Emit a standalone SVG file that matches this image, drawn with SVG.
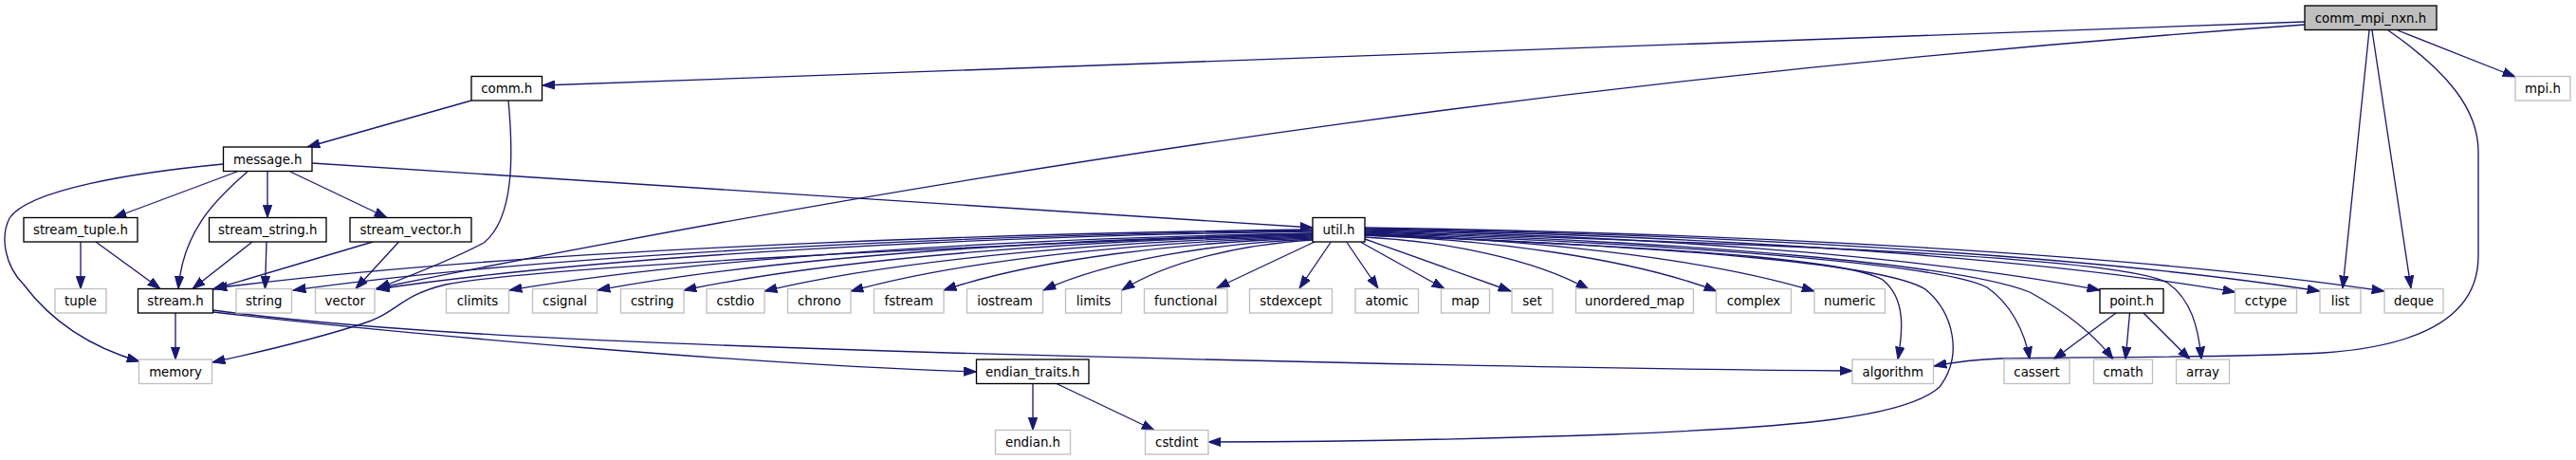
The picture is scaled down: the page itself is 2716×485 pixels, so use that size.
<svg xmlns="http://www.w3.org/2000/svg" width="2716" height="485" viewBox="0 0 2716 485">
<style>
.node rect{fill:#ffffff;stroke:#000000;stroke-width:1.33}
.node.sys rect{stroke:#bfbfbf}
.node.root rect{fill:#bfbfbf;stroke:#000000}
.node text{font-family:"DejaVu Sans","Liberation Sans",sans-serif;font-size:13.33px;text-anchor:middle;fill:#000000}
#edges path{fill:none;stroke:#191970;stroke-width:1.33;marker-end:url(#ah)}
</style>
<defs>
<marker id="ah" markerUnits="userSpaceOnUse" markerWidth="14" markerHeight="10" viewBox="0 0 14 10" refX="13.33" refY="5" orient="auto">
<path d="M0,0.33 L13.33,5 L0,9.67 Z" fill="#191970" stroke="#191970" stroke-width="1"/>
</marker>
</defs>
<rect x="0" y="0" width="2716" height="485" fill="#ffffff"/>
<g id="edges">
<path d="M2430,23 L572,90"/>
<path d="M2430,26 C1730,76 1108,161 397,304"/>
<path d="M2498,32 L2470,304"/>
<path d="M2501,32 L2542,304"/>
<path d="M2518,32 C2580,75 2613,115 2613,160 L2613,270 C2613,335 2550,365 2450,372 C2330,378 2180,376 2110,378 C2080,379 2060,382 2039,386"/>
<path d="M2528,32 L2652,81"/>
<path d="M497,106 L324,155"/>
<path d="M536,106 C541,160 543,230 510,256 C480,272 440,288 398,304"/>
<path d="M235.5,173 C140,182 30,200 10,230 C0,250 5,280 25,300 C55,340 95,366 147,381"/>
<path d="M250,181 L120,229.5"/>
<path d="M261,181 C225,212 193,245 188,304.5"/>
<path d="M282,181 L282,229.5"/>
<path d="M306,181 L408,229.5"/>
<path d="M329,172 L1384,240"/>
<path d="M85,255 L85,304.5"/>
<path d="M101,255 L169,304.5"/>
<path d="M266,255 L203,304.5"/>
<path d="M281,255 L279.5,304.5"/>
<path d="M393,255 L224.5,305"/>
<path d="M420.5,255 L375,304.5"/>
<path d="M185,330 L185,379"/>
<path d="M224.5,329 C420,352 800,385 1029.5,392"/>
<path d="M224.5,327 C380,348 600,360 1000,372 C1400,383 1700,389 1953,391"/>
<path d="M1089,404.5 L1089,453.5"/>
<path d="M1114,404.5 L1217,453.5"/>
<path d="M2231,330 L2165,379"/>
<path d="M2245.5,330 L2241,379"/>
<path d="M2260,330 L2309,379"/>
<path d="M1384,242 C979,247 515.5,266.8 226,304"/>
<path d="M1384,243 C1007.8,248 577.8,268.2 309,306"/>
<path d="M1384,244 C1038.6,248.9 643.8,268.4 397,305"/>
<path d="M1384,246 C1000,260 560,282 470,300 C420,312 420,330 380,342 C330,358 270,372 224,382"/>
<path d="M1384,246 C1087.6,250.8 748.8,270 537,306"/>
<path d="M1384,247 C1120,251.7 818.5,270.6 630,306"/>
<path d="M1384,248 C1152,252.6 886.8,271.2 721,306"/>
<path d="M1384,249 C1181.7,253.6 950.5,272.2 806,307"/>
<path d="M1384,250 C1213.6,254.6 1018.8,272.8 897,307"/>
<path d="M1384,251 C1247.9,255.4 1092.3,273 995,306"/>
<path d="M1384,252 C1284.6,256.3 1171,273.6 1100,306"/>
<path d="M1384,253 C1313.7,257.2 1233.3,274.2 1183,306"/>
<path d="M1386,255 L1283,303.5"/>
<path d="M1403,255.5 L1370,304"/>
<path d="M1420,255.5 L1453,304"/>
<path d="M1435,255.5 L1523,304.5"/>
<path d="M1439,252 L1593,307"/>
<path d="M1439,250 C1521.6,254.4 1616,272 1675,305"/>
<path d="M1439,248 C1568.9,252.7 1717.3,271.6 1810,307"/>
<path d="M1439,247 C1604.9,251.8 1794.5,271 1913,307"/>
<path d="M1439,243 C1710,248 2020,268.2 2214,306"/>
<path d="M1439,242 C1760,247.3 2127.5,268.4 2357,308"/>
<path d="M1439,241 C1791.5,246.3 2194,267.4 2446,307"/>
<path d="M1439,240 C1815,245.4 2245,266.8 2514,307"/>
<path d="M1439,244 C1900,258 2240,272 2285,298 C2310,315 2318,345 2321,379"/>
<path d="M1439,245 C1800,255 2070,280 2140,308 C2180,330 2210,355 2228,379"/>
<path d="M1439,246 C1800,258 2050,280 2095,303 C2120,320 2135,350 2140,379"/>
<path d="M1439,247 C1800,262 1990,280 2030,305 C2060,330 2070,375 2045,408 C2010,440 1900,450 1700,458 C1500,465 1350,466 1274,466"/>
<path d="M1439,248 C1800,262 1950,275 1985,295 C2010,315 2006,350 2001,379"/>
</g>
<g id="n_comm_mpi_nxn" class="node root"><rect x="2430" y="6" width="139" height="25.5"/><text x="2499.5" y="23.5">comm_mpi_nxn.h</text></g>
<g id="n_comm" class="node"><rect x="497" y="80.5" width="74.5" height="25.5"/><text x="534.25" y="98">comm.h</text></g>
<g id="n_mpi" class="node sys"><rect x="2652" y="80.5" width="58" height="25.5"/><text x="2681" y="98">mpi.h</text></g>
<g id="n_message" class="node"><rect x="235.5" y="155" width="93.5" height="25.5"/><text x="282.25" y="172.5">message.h</text></g>
<g id="n_stream_tuple" class="node"><rect x="25" y="229.5" width="120" height="25.5"/><text x="85" y="247">stream_tuple.h</text></g>
<g id="n_stream_string" class="node"><rect x="220.5" y="229.5" width="123.5" height="25.5"/><text x="282.25" y="247">stream_string.h</text></g>
<g id="n_stream_vector" class="node"><rect x="369" y="229.5" width="128" height="25.5"/><text x="433" y="247">stream_vector.h</text></g>
<g id="n_util" class="node"><rect x="1384" y="229.5" width="55" height="25.5"/><text x="1411.5" y="247">util.h</text></g>
<g id="n_tuple" class="node sys"><rect x="58" y="304.5" width="54" height="25.5"/><text x="85" y="322">tuple</text></g>
<g id="n_stream" class="node"><rect x="145.5" y="304.5" width="79" height="25.5"/><text x="185" y="322">stream.h</text></g>
<g id="n_string" class="node sys"><rect x="249" y="304.5" width="58.5" height="25.5"/><text x="278.25" y="322">string</text></g>
<g id="n_vector" class="node sys"><rect x="332.5" y="304.5" width="62.5" height="25.5"/><text x="363.75" y="322">vector</text></g>
<g id="n_climits" class="node sys"><rect x="470.5" y="304.5" width="66" height="25.5"/><text x="503.5" y="322">climits</text></g>
<g id="n_csignal" class="node sys"><rect x="561.5" y="304.5" width="68" height="25.5"/><text x="595.5" y="322">csignal</text></g>
<g id="n_cstring" class="node sys"><rect x="654.5" y="304.5" width="66.5" height="25.5"/><text x="687.75" y="322">cstring</text></g>
<g id="n_cstdio" class="node sys"><rect x="745" y="304.5" width="61" height="25.5"/><text x="775.5" y="322">cstdio</text></g>
<g id="n_chrono" class="node sys"><rect x="830.5" y="304.5" width="66.5" height="25.5"/><text x="863.75" y="322">chrono</text></g>
<g id="n_fstream" class="node sys"><rect x="921.5" y="304.5" width="73.5" height="25.5"/><text x="958.25" y="322">fstream</text></g>
<g id="n_iostream" class="node sys"><rect x="1019.5" y="304.5" width="80" height="25.5"/><text x="1059.5" y="322">iostream</text></g>
<g id="n_limits" class="node sys"><rect x="1123.5" y="304.5" width="59" height="25.5"/><text x="1153" y="322">limits</text></g>
<g id="n_functional" class="node sys"><rect x="1206.5" y="304.5" width="87.5" height="25.5"/><text x="1250.25" y="322">functional</text></g>
<g id="n_stdexcept" class="node sys"><rect x="1317.5" y="304.5" width="87" height="25.5"/><text x="1361" y="322">stdexcept</text></g>
<g id="n_atomic" class="node sys"><rect x="1429" y="304.5" width="66.5" height="25.5"/><text x="1462.25" y="322">atomic</text></g>
<g id="n_map" class="node sys"><rect x="1519.5" y="304.5" width="51" height="25.5"/><text x="1545" y="322">map</text></g>
<g id="n_set" class="node sys"><rect x="1594" y="304.5" width="43" height="25.5"/><text x="1615.5" y="322">set</text></g>
<g id="n_unordered_map" class="node sys"><rect x="1661.5" y="304.5" width="124" height="25.5"/><text x="1723.5" y="322">unordered_map</text></g>
<g id="n_complex" class="node sys"><rect x="1809.5" y="304.5" width="79" height="25.5"/><text x="1849" y="322">complex</text></g>
<g id="n_numeric" class="node sys"><rect x="1913" y="304.5" width="74.5" height="25.5"/><text x="1950.25" y="322">numeric</text></g>
<g id="n_point" class="node"><rect x="2214" y="304.5" width="67" height="25.5"/><text x="2247.5" y="322">point.h</text></g>
<g id="n_cctype" class="node sys"><rect x="2356.5" y="304.5" width="65" height="25.5"/><text x="2389" y="322">cctype</text></g>
<g id="n_list" class="node sys"><rect x="2446" y="304.5" width="43" height="25.5"/><text x="2467.5" y="322">list</text></g>
<g id="n_deque" class="node sys"><rect x="2514" y="304.5" width="62" height="25.5"/><text x="2545" y="322">deque</text></g>
<g id="n_memory" class="node sys"><rect x="146.5" y="379" width="77" height="25.5"/><text x="185" y="396.5">memory</text></g>
<g id="n_endian_traits" class="node"><rect x="1029.5" y="379" width="118.5" height="25.5"/><text x="1088.75" y="396.5">endian_traits.h</text></g>
<g id="n_algorithm" class="node sys"><rect x="1953" y="379" width="85.5" height="25.5"/><text x="1995.75" y="396.5">algorithm</text></g>
<g id="n_cassert" class="node sys"><rect x="2113" y="379" width="69" height="25.5"/><text x="2147.5" y="396.5">cassert</text></g>
<g id="n_cmath" class="node sys"><rect x="2207.5" y="379" width="62" height="25.5"/><text x="2238.5" y="396.5">cmath</text></g>
<g id="n_array" class="node sys"><rect x="2294.5" y="379" width="56" height="25.5"/><text x="2322.5" y="396.5">array</text></g>
<g id="n_endian" class="node sys"><rect x="1049.5" y="453.5" width="79" height="25.5"/><text x="1089" y="471">endian.h</text></g>
<g id="n_cstdint" class="node sys"><rect x="1207.5" y="453.5" width="66.5" height="25.5"/><text x="1240.75" y="471">cstdint</text></g>
</svg>
